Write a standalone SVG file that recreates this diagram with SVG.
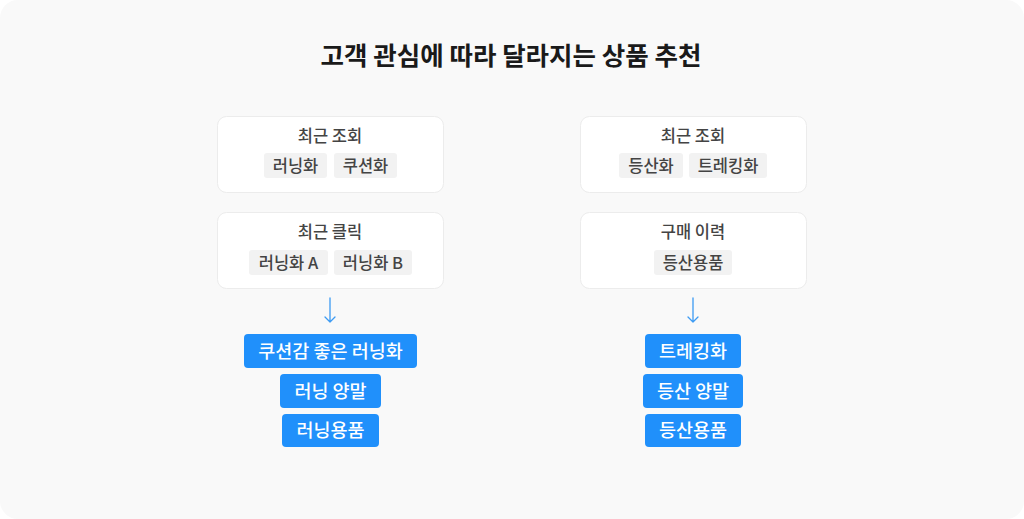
<svg xmlns="http://www.w3.org/2000/svg" width="1024" height="519" viewBox="0 0 1024 519">
<style>
text{font-family:"Noto Sans CJK KR","Noto Sans",sans-serif;text-anchor:middle}
.card{fill:#ffffff;stroke:#ececec;stroke-width:1}
.chip{fill:#f2f2f2}
.lbl{font-size:16.5px;fill:#444444;font-weight:500}
.ct{font-size:16.5px;fill:#444444;font-weight:500}
.btn{fill:#2090fb}
.bt{font-size:18.5px;fill:#ffffff;font-weight:500}
.title{font-size:25.5px;font-weight:700;fill:#1a1a1a}
.arr{stroke:#3d9bf3;stroke-width:1.3;fill:none;stroke-linecap:round;stroke-linejoin:round}
</style>
<rect x="0" y="0" width="1024" height="519" fill="#ffffff"/>
<rect x="0" y="0" width="1024" height="519" rx="18" fill="#f9f9f9"/>
<text class="title" x="511" y="65">고객 관심에 따라 달라지는 상품 추천</text>

<g id="left-recent-view">
<rect class="card" x="217.5" y="116.5" width="226" height="76" rx="9"/>
<text class="lbl" x="330" y="142">최근 조회</text>
<rect class="chip" x="264" y="153" width="63" height="25" rx="3"/>
<text class="ct" x="295.5" y="171.5">러닝화</text>
<rect class="chip" x="334" y="153" width="63" height="25" rx="3"/>
<text class="ct" x="365.5" y="171.5">쿠션화</text>
</g>
<g id="left-recent-click">
<rect class="card" x="217.5" y="212.5" width="226" height="76" rx="9"/>
<text class="lbl" x="330" y="238">최근 클릭</text>
<rect class="chip" x="249" y="250" width="79" height="25" rx="3"/>
<text class="ct" x="288.5" y="268.5">러닝화 A</text>
<rect class="chip" x="334" y="250" width="78" height="25" rx="3"/>
<text class="ct" x="373" y="268.5">러닝화 B</text>
</g>
<g id="right-recent-view">
<rect class="card" x="580.5" y="116.5" width="226" height="76" rx="9"/>
<text class="lbl" x="693" y="142">최근 조회</text>
<rect class="chip" x="619" y="153" width="64" height="25" rx="3"/>
<text class="ct" x="651" y="171.5">등산화</text>
<rect class="chip" x="689" y="153" width="78" height="25" rx="3"/>
<text class="ct" x="728" y="171.5">트레킹화</text>
</g>
<g id="right-purchase">
<rect class="card" x="580.5" y="212.5" width="226" height="76" rx="9"/>
<text class="lbl" x="693" y="238">구매 이력</text>
<rect class="chip" x="654" y="250" width="78" height="25" rx="3"/>
<text class="ct" x="693" y="268.5">등산용품</text>
</g>

<g id="connectors">
<path class="arr" d="M330 298 V322 M325 317 L330 322 L335 317"/>
<path class="arr" d="M693 298 V322 M688 317 L693 322 L698 317"/>
</g>

<g id="left-rec-1">
<rect class="btn" x="244" y="334" width="173" height="34" rx="4"/>
<text class="bt" x="330.5" y="357.5">쿠션감 좋은 러닝화</text>
</g>
<g id="left-rec-2">
<rect class="btn" x="280" y="374" width="101" height="34" rx="4"/>
<text class="bt" x="330.5" y="397.5">러닝 양말</text>
</g>
<g id="left-rec-3">
<rect class="btn" x="282" y="414" width="97" height="33" rx="4"/>
<text class="bt" x="330.5" y="437">러닝용품</text>
</g>
<g id="right-rec-1">
<rect class="btn" x="645" y="334" width="96" height="34" rx="4"/>
<text class="bt" x="693" y="357.5">트레킹화</text>
</g>
<g id="right-rec-2">
<rect class="btn" x="643" y="374" width="100" height="34" rx="4"/>
<text class="bt" x="693" y="397.5">등산 양말</text>
</g>
<g id="right-rec-3">
<rect class="btn" x="645" y="414" width="96" height="33" rx="4"/>
<text class="bt" x="693" y="437">등산용품</text>
</g>
</svg>
